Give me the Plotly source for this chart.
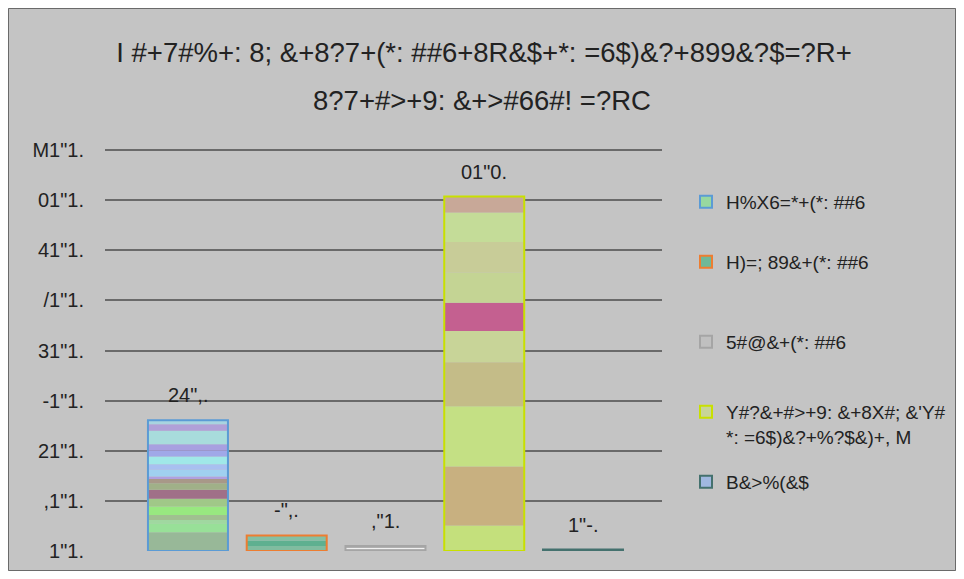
import plotly.graph_objects as go

# ---------------- data ----------------
categories = ["H%X6=*+(*: ##6", "H)=; 89&+(*: ##6", "5#@&+(*: ##6",
              "Y#?&+#>+9: &+8X#; &'Y#<br>*: =6$)&?+%?$&)+, M", "B&>%(&$"]
totals = [26.1, 3.1, 1.0, 70.7, 0.3]
value_labels = ['24",.', '-",.', ',"1.', '01"0.', '1"-.']
tick_values = [0, 10, 20, 30, 40, 50, 60, 70, 80]
tick_labels = ['1"1.', ',1"1.', '21"1.', '-1"1.', '31"1.', '/1"1.', '41"1.', '01"1.', 'M1"1.']
title_line1 = "I #+7#%+: 8; &+8?7+(*: ##6+8R&$+*: =6$)&?+899&?$=?R+"
title_line2 = "8?7+#>+9: &+>#66#! =?RC"

# stacked stripe segments inside each bar (bottom -> top)
seg_values_1 = [3.73, 1.8, 0.67, 1.0, 1.67, 1.53, 1.8, 1.33, 1.0, 0.33,
                1.33, 1.13, 1.53, 1.13, 1.33, 2.67, 1.33, 0.79]
seg_values_2 = [1.0, 1.1, 1.0]
seg_values_3 = [0.4, 0.2, 0.4]
seg_values_4 = [5.07, 11.8, 12.0, 8.8, 6.2, 5.67, 6.0, 6.13, 5.87, 3.16]
seg_values_5 = [0.3]

# ---------------- styles ----------------
seg_colors_1 = ["#98b898", "#98e098", "#a0d8a0", "#a0c090", "#98e880", "#a0c888",
                "#a07088", "#a0b088", "#a89888", "#b0a0e0", "#a0d0f0", "#a8c0f0",
                "#a0e8e8", "#a0a8e8", "#a8a0e0", "#a8dcdc", "#b0a0d8", "#a8d4e0"]
seg_colors_2 = ["#80bca0", "#5eb090", "#84c0a4"]
seg_colors_3 = ["#b0b0b0", "#f0f0f0", "#b0b0b0"]
seg_colors_4 = ["#c4e07c", "#c8b080", "#c4e084", "#c4bc88", "#c8d498", "#c46090",
                "#c4d494", "#c8cc98", "#c4dc98", "#c8a898"]
seg_colors_5 = ["#4a7a78"]
outline_colors = ["#5b9bd5", "#ed7d31", "#a5a5a5", "#c8e000", "#44716e"]
legend_fill = ["#98d8a0", "#70b898", "#c0c0c0", "#c8d498", "#a0b8e0"]

FONT = "Liberation Sans, Arial, sans-serif"
W, H = 948, 563
L, R, T, B = 97, 294, 140, 20
PW, PH = W - L - R, H - T - B
OFF = 8  # page margin of the browser
YMAX = 80 + 2 * 80 / (PH - 2)  # 80-line sits 2px below the plot top


def py_to_paper(win_y):
    return (H - B - (win_y - OFF)) / PH


def px_to_paper(win_x):
    return ((win_x - OFF) - L) / PW


fig = go.Figure()

all_segs = [seg_values_1, seg_values_2, seg_values_3, seg_values_4, seg_values_5]
all_cols = [seg_colors_1, seg_colors_2, seg_colors_3, seg_colors_4, seg_colors_5]
BW = 0.81
for cat, segs, cols in zip(categories, all_segs, all_cols):
    base = 0.0
    for v, c in zip(segs, cols):
        fig.add_trace(go.Bar(x=[cat], y=[v], base=[base], width=BW,
                             marker=dict(color=c, line=dict(width=0)),
                             showlegend=False, hoverinfo="skip"))
        base += v

# outlines
for cat, tot, oc in zip(categories, totals, outline_colors):
    fig.add_trace(go.Bar(x=[cat], y=[tot], base=[0], width=BW,
                         marker=dict(color="rgba(0,0,0,0)", line=dict(color=oc, width=2)),
                         showlegend=False, hoverinfo="skip"))

# legend entries (one legend box each)
legend_win_y = [202, 262, 342, 412, 482]
for i, (cat, oc, lf) in enumerate(zip(categories, outline_colors, legend_fill)):
    lname = "legend" if i == 0 else f"legend{i+1}"
    fig.add_trace(go.Bar(x=[cat], y=[None], name=cat, legend=lname,
                         marker=dict(color=lf, line=dict(color=oc, width=2))))

# value labels
for cat, tot, lab in zip(categories, totals, value_labels):
    fig.add_annotation(x=cat, y=tot, text=lab, showarrow=False, yanchor="bottom",
                       yshift=12, font=dict(family=FONT, size=20, color="#222222"))

# second title line
fig.add_annotation(x=px_to_paper(482), xref="paper", y=py_to_paper(100), yref="paper",
                   text=title_line2, showarrow=False, xanchor="center", yanchor="middle",
                   font=dict(family=FONT, size=27.5, color="#222222"))

legends = {}
for i, wy in enumerate(legend_win_y):
    key = "legend" if i == 0 else f"legend{i+1}"
    legends[key] = dict(x=px_to_paper(686), xanchor="left",
                        y=py_to_paper(wy), yanchor="middle",
                        bgcolor="rgba(0,0,0,0)", valign="top",
                        font=dict(family=FONT, size=19, color="#222222"))
    if i == 3:
        legends[key]["y"] = py_to_paper(wy - 19)
        legends[key]["yanchor"] = "top"

fig.update_layout(
    width=W, height=H,
    margin=dict(l=L, r=R, t=T, b=B, autoexpand=False),
    paper_bgcolor="#c4c4c4", plot_bgcolor="rgba(0,0,0,0)",
    barmode="overlay",
    title=dict(text=title_line1, x=px_to_paper(484), xref="paper", xanchor="center",
               y=1 - (52 - OFF) / H, yref="container", yanchor="middle",
               font=dict(family=FONT, size=27.5, color="#222222")),
    xaxis=dict(range=[-0.84, 4.8], showticklabels=False, showgrid=False,
               zeroline=False, showline=False, ticks=""),
    yaxis=dict(range=[0, YMAX], tickvals=tick_values, ticktext=tick_labels,
               showgrid=True, gridcolor="#6a6a6a", gridwidth=2, zeroline=False,
               showline=False, ticks="", ticklabelstandoff=20,
               tickfont=dict(family=FONT, size=20, color="#222222")),
    shapes=[dict(type="rect", xref="paper", yref="paper", layer="below",
                 x0=(-L + 0.5) / PW, x1=1 + (R - 0.5) / PW,
                 y0=(-B + 0.5) / PH, y1=1 + (T - 0.5) / PH,
                 fillcolor="rgba(0,0,0,0)", line=dict(color="#6a6a6a", width=1))],
    **legends,
)

fig.write_html("out.html")
